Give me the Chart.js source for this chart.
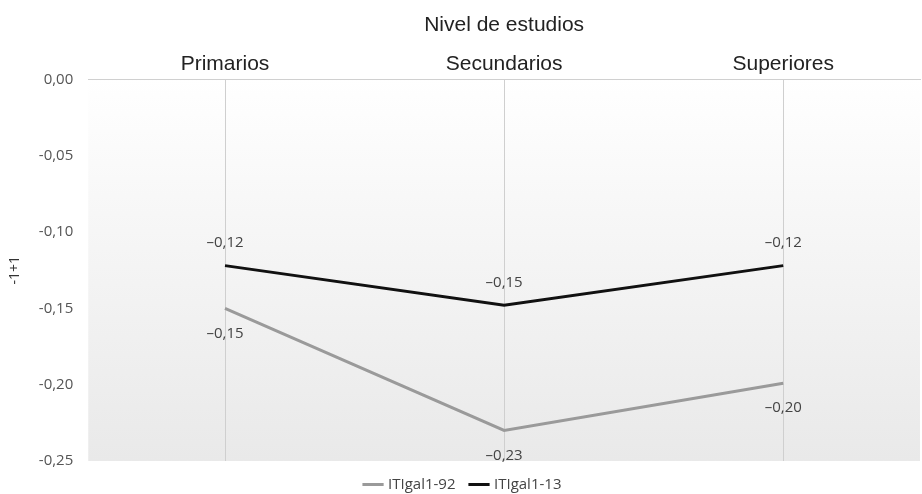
<!DOCTYPE html>
<html>
<head>
<meta charset="utf-8">
<script src="https://cdn.jsdelivr.net/npm/chart.js@4.4.0/dist/chart.umd.min.js"></script>
<style>
  html, body { margin: 0; padding: 0; background: #fff; }
  #wrap { width: 922px; height: 494px; }
</style>
</head>
<body>
<div id="wrap"><canvas id="myChart"></canvas></div>
<script>
// data
var categories = ["Primarios", "Secundarios", "Superiores"];
var seriesNames = ["ITIgal1-92", "ITIgal1-13"];
var valuesGal92 = [-0.15, -0.23, -0.199];
var valuesGal13 = [-0.122, -0.148, -0.122];
var labelsGal92 = ["\u20130,15", "\u20130,23", "\u20130,20"];
var labelsGal13 = ["\u20130,12", "\u20130,15", "\u20130,12"];
var yTicks = [0, -0.05, -0.10, -0.15, -0.20, -0.25];

function pts(vals) {
  return vals.map(function (v, i) { return { x: i, y: v }; });
}

// soft gray gradient behind the plot
const bgPlugin = {
  id: 'bg',
  beforeDraw(chart) {
    const { ctx, chartArea: a } = chart;
    const g = ctx.createLinearGradient(0, a.top, 0, a.bottom);
    g.addColorStop(0, '#ffffff');
    g.addColorStop(0.35, '#f7f7f7');
    g.addColorStop(1, '#e9e9e9');
    ctx.save();
    ctx.fillStyle = g;
    ctx.fillRect(a.left, a.top, a.right - a.left, a.bottom - a.top);
    ctx.restore();
  }
};

// value labels (black above, gray below)
const valueLabels = {
  id: 'valueLabels',
  afterDatasetsDraw(chart) {
    const ctx = chart.ctx;
    ctx.save();
    ctx.font = '15px "Open Sans", sans-serif';
    ctx.fillStyle = '#444';
    ctx.textAlign = 'center';
    ctx.textBaseline = 'middle';
    const m92 = chart.getDatasetMeta(0), m13 = chart.getDatasetMeta(1);
    m13.data.forEach(function (p, i) {
      ctx.fillText(labelsGal13[i], p.x, p.y - 23);
    });
    m92.data.forEach(function (p, i) {
      ctx.fillText(labelsGal92[i], p.x, p.y + 25);
    });
    ctx.restore();
  }
};

const ctx = document.getElementById('myChart');
new Chart(ctx, {
  type: 'line',
  data: {
    datasets: [{
      label: seriesNames[0],
      data: pts(valuesGal92),
      borderColor: '#9a9a9a',
      backgroundColor: '#9a9a9a',
      borderWidth: 3,
      pointRadius: 0,
      tension: 0
    }, {
      label: seriesNames[1],
      data: pts(valuesGal13),
      borderColor: '#111111',
      backgroundColor: '#111111',
      borderWidth: 3,
      pointRadius: 0,
      tension: 0
    }]
  },
  options: {
    responsive: true,
    maintainAspectRatio: false,
    animation: false,
    layout: { padding: { left: 7, right: 2, top: 13, bottom: -8 } },
    plugins: {
      legend: {
        position: 'bottom',
        labels: {
          usePointStyle: true,
          pointStyle: 'line',
          boxWidth: 40,
          padding: 16,
          color: '#444',
          font: { family: '"Open Sans", sans-serif', size: 15 }
        }
      },
      tooltip: { enabled: false }
    },
    scales: {
      x: {
        type: 'linear',
        position: 'top',
        min: -0.49,
        max: 2.49,
        afterBuildTicks: function (axis) {
          axis.ticks = categories.map(function (c, i) { return { value: i }; });
        },
        ticks: {
          callback: function (v) { return categories[v]; },
          color: '#222',
          font: { family: 'Liberation Sans, Arial, sans-serif', size: 21 },
          padding: 3,
          maxRotation: 0
        },
        grid: { color: '#cfcfcf', drawTicks: false, lineWidth: 1 },
        border: { display: true, color: '#d0d0d0' },
        title: {
          display: true,
          text: 'Nivel de estudios',
          color: '#222',
          font: { family: 'Liberation Sans, Arial, sans-serif', size: 21 },
          padding: { top: 0, bottom: 10 }
        }
      },
      y: {
        min: -0.25,
        max: 0,
        afterBuildTicks: function (axis) {
          axis.ticks = yTicks.map(function (v) { return { value: v }; });
        },
        ticks: {
          callback: function (v) {
            return v.toFixed(2).replace('.', ',');
          },
          color: '#555',
          font: { family: '"Open Sans", sans-serif', size: 15 },
          padding: 15
        },
        grid: {
          drawTicks: false,
          color: function (c) { return c.tick && c.tick.value === 0 ? '#d0d0d0' : 'rgba(0,0,0,0)'; }
        },
        border: { display: false },
        title: {
          display: true,
          text: '-1+1',
          color: '#333',
          font: { family: '"Open Sans", sans-serif', size: 14 },
          padding: { top: 0, bottom: 0 }
        }
      }
    }
  },
  plugins: [bgPlugin, valueLabels]
});
</script>
</body>
</html>
